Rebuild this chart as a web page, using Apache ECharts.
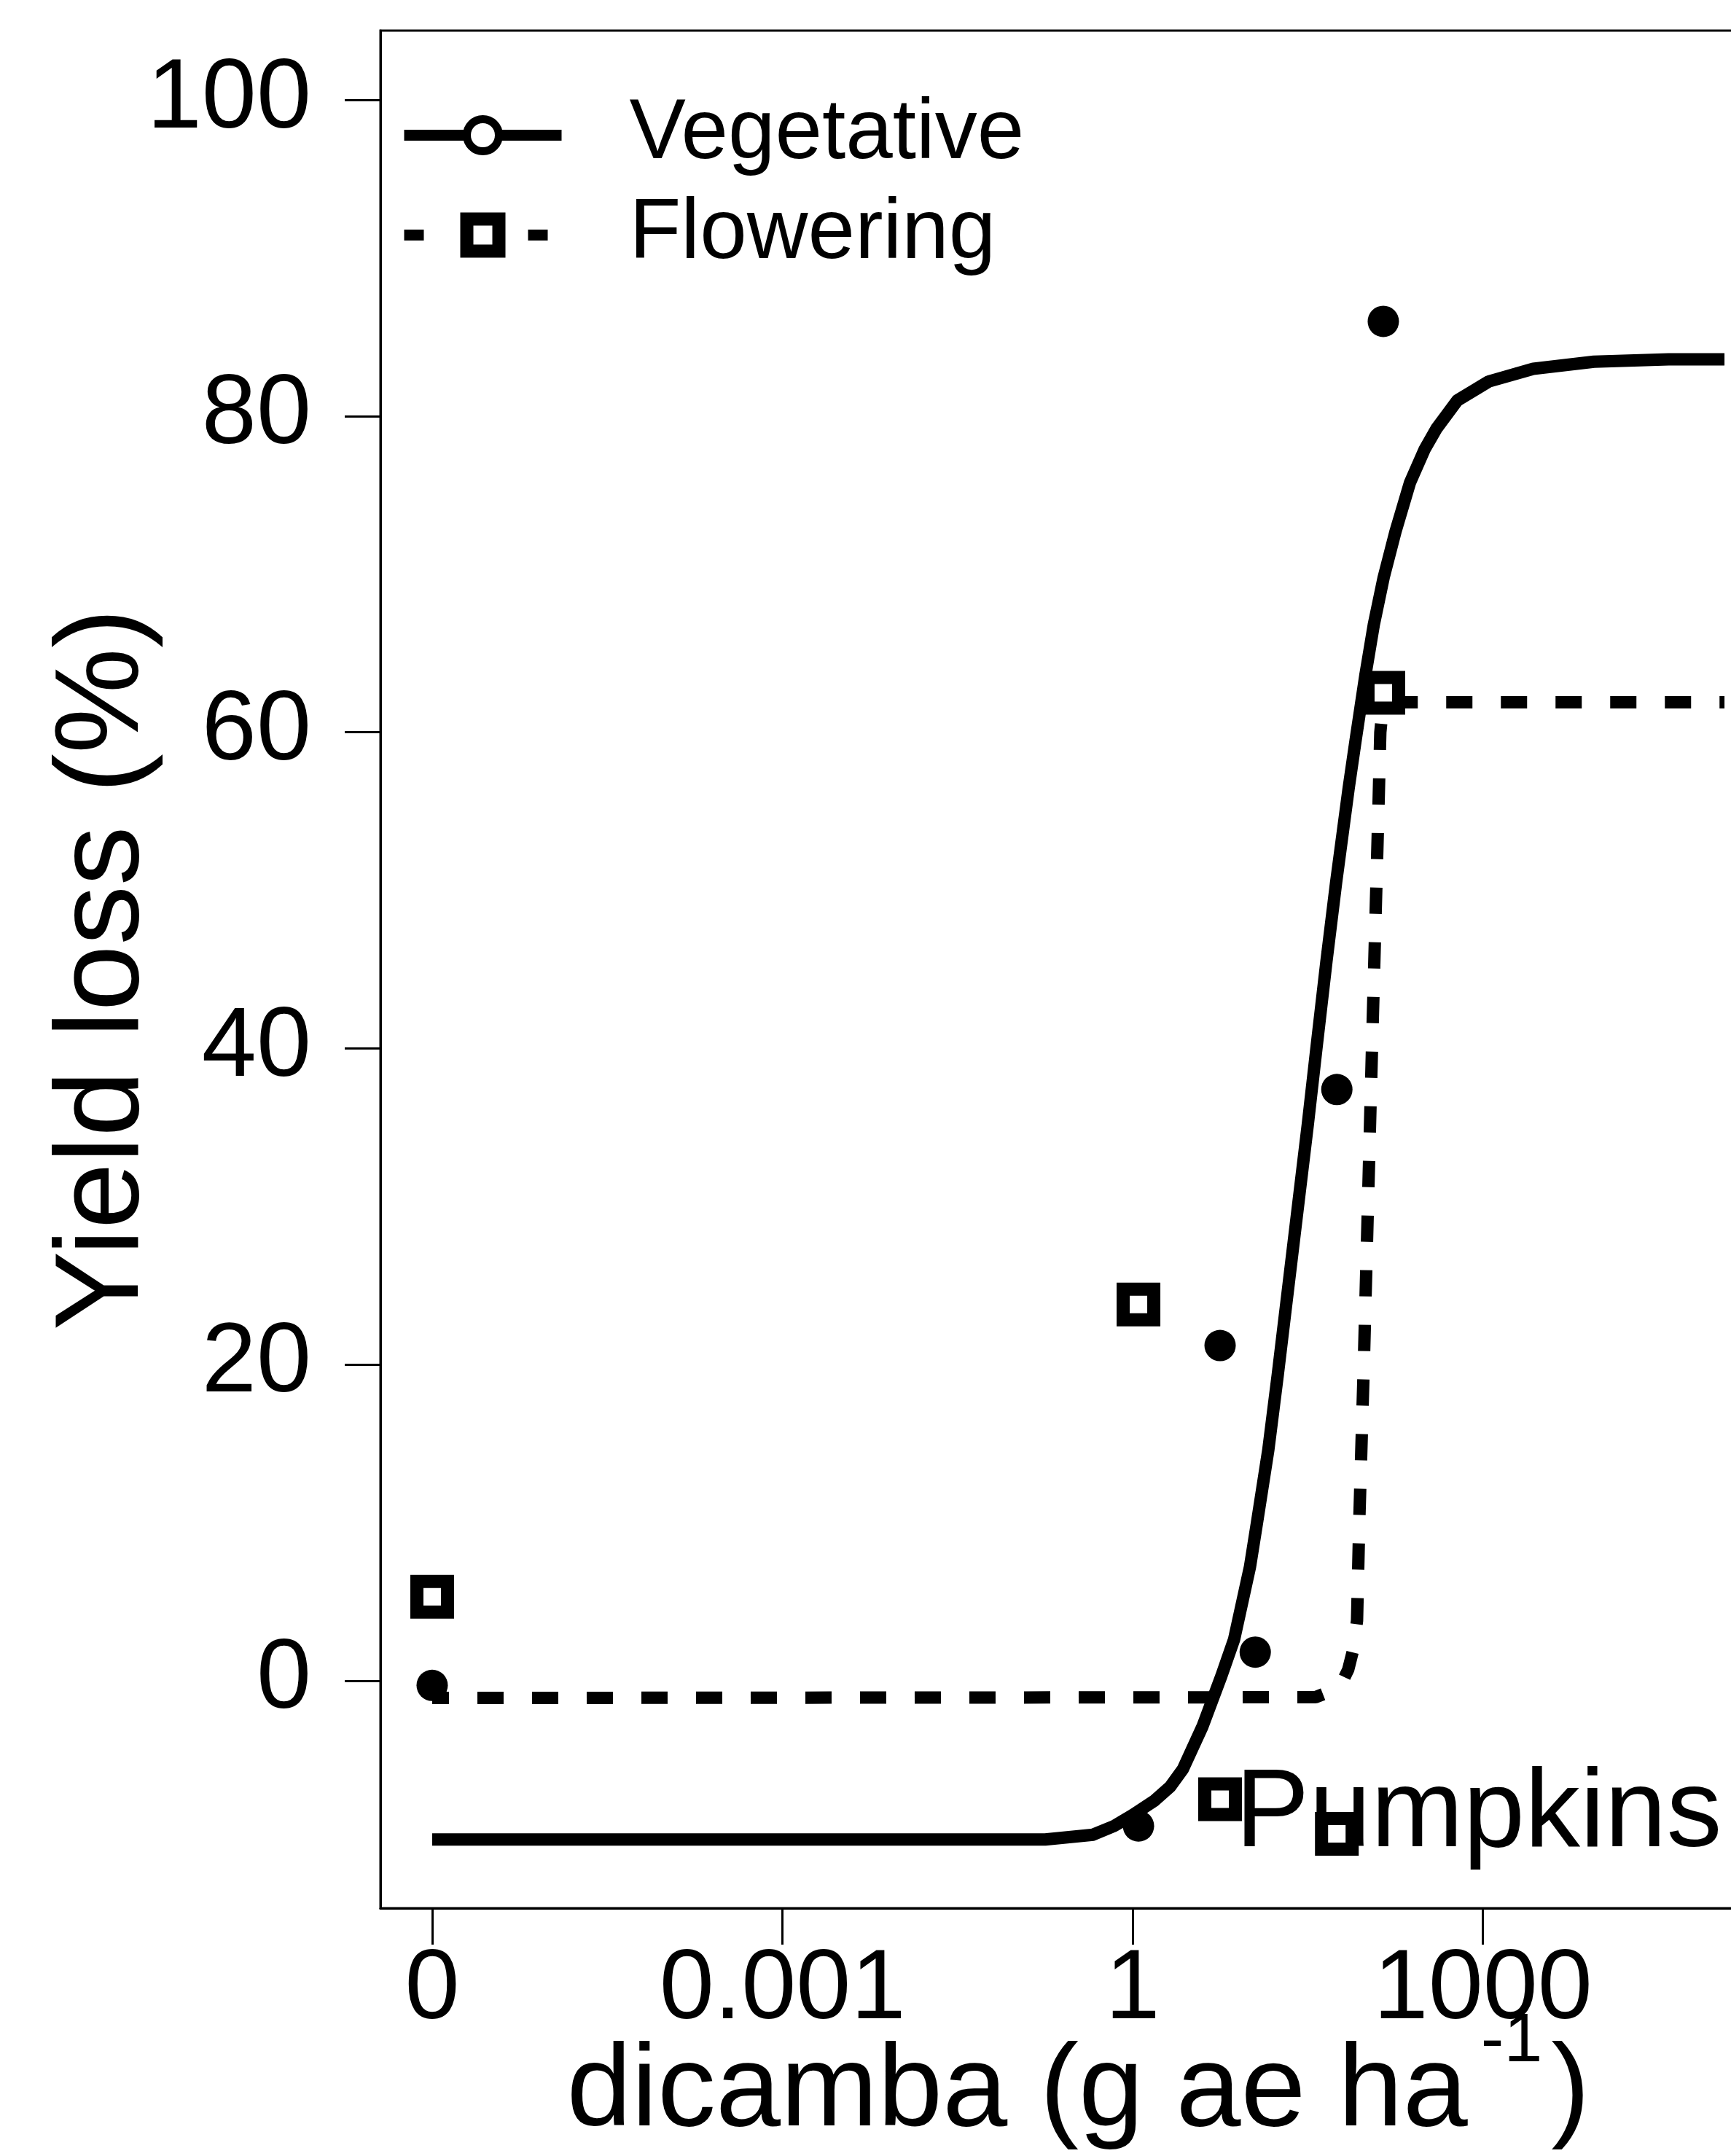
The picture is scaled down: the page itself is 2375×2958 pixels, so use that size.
<!DOCTYPE html>
<html>
<head>
<meta charset="utf-8">
<script src="https://cdn.jsdelivr.net/npm/echarts@6/dist/echarts.min.js"></script>
<style>
html,body{margin:0;padding:0;background:#fff;}
#chart{width:2375px;height:2958px;}
</style>
</head>
<body>
<div id="chart"></div>
<script>
// ---- tick labels ----
const xTickValues = [0, 0.001, 1, 1000];
const xTickLabels = ['0', '0.001', '1', '1000'];
const yTickValues = [0, 20, 40, 60, 80, 100];
const zeroDosePosition = 1e-6;   // where dose 0 is drawn on the log axis

// ---- observed points (dose in g ae/ha, yield loss %) ----
const vegDose = [0, 1.12, 5.6, 11.2, 56, 140];
const vegLoss = [-0.3, -9.2, 21.2, 1.8, 37.4, 86.0];
const flowDose = [0, 1.12, 5.6, 56, 140];
const flowLoss = [5.3, 23.8, -7.5, -9.7, 62.5];

// ---- fitted curves ----
const vegCurveDose = [0, 0.178, 0.457, 0.692, 1.0, 1.53, 2.1, 2.69, 3.96, 5.75, 7.38, 10.1, 11.6, 14.5, 17.5, 20.7, 26.3, 31.6, 37.7, 45.6, 55.2, 70.8, 81.1, 98.2, 116, 141, 178, 237, 316, 398, 603, 1120, 2690, 8910, 38900, 117000];
const vegCurveLoss = [-10.05, -10.05, -9.75, -9.2, -8.5, -7.6, -6.7, -5.6, -2.9, 0.3, 2.6, 7.2, 10.0, 14.6, 19.4, 23.9, 30.3, 35.2, 40.2, 45.5, 50.5, 56.5, 59.5, 63.6, 66.8, 69.8, 72.7, 75.8, 77.9, 79.2, 81.0, 82.2, 83.0, 83.45, 83.6, 83.6];
const flowCurveDose = [0, 36.8, 52.5, 63.1, 70.1, 77.6, 83.4, 87.1, 95.3, 112, 127, 132, 138, 145, 117000];
const flowCurveLoss = [-1.1, -1.05, -0.6, 0.0, 0.7, 2.0, 3.8, 10, 20, 40, 55, 60, 61.5, 61.9, 61.9];

const pos = d => Math.log10(d === 0 ? zeroDosePosition : d);
const pairs = (xs, ys) => xs.map((d, i) => [pos(d), ys[i]]);

const FONT = "'Liberation Sans', Arial, sans-serif";

const chart = echarts.init(document.getElementById('chart'), null, {renderer: 'canvas'});
chart.setOption({
  animation: false,
  backgroundColor: '#fff',
  grid: {
    left: 522, top: 42, width: 1915, height: 2576,
    show: true, borderColor: '#000', borderWidth: 3, backgroundColor: 'transparent',
    containLabel: false, outerBoundsMode: 'none'
  },
  xAxis: {
    type: 'value', min: -6.443, max: 5.511,
    name: 'dicamba (g ae ha{sup|-1})',
    nameLocation: 'middle', nameGap: 136, nameMoveOverlap: false,
    nameTextStyle: {
      fontFamily: FONT, fontSize: 160, color: '#000',
      rich: { sup: { fontFamily: FONT, fontSize: 95, color: '#000', padding: [0, 12, 140, 18] } }
    },
    axisLine: { show: true, onZero: false, lineStyle: { color: '#000', width: 3 } },
    axisTick: { show: true, inside: false, length: 50, customValues: xTickValues.map(pos), lineStyle: { color: '#000', width: 3 } },
    axisLabel: {
      customValues: xTickValues.map(pos), margin: 46,
      fontFamily: FONT, fontSize: 135, color: '#000',
      formatter: v => {
        const i = xTickValues.findIndex(t => Math.abs(pos(t) - v) < 1e-9);
        return i >= 0 ? xTickLabels[i] : '';
      }
    },
    splitLine: { show: false }
  },
  yAxis: {
    type: 'value', min: -14.4, max: 104.4,
    name: 'Yield loss (%)',
    nameLocation: 'middle', nameGap: 296, nameMoveOverlap: false,
    nameTextStyle: { fontFamily: FONT, fontSize: 163, color: '#000' },
    axisLine: { show: true, onZero: false, lineStyle: { color: '#000', width: 3 } },
    axisTick: { show: true, inside: false, length: 49, customValues: yTickValues, lineStyle: { color: '#000', width: 3 } },
    axisLabel: {
      customValues: yTickValues, margin: 95,
      fontFamily: FONT, fontSize: 135, color: '#000', padding: [10, 0, 0, 0],
      formatter: v => String(v)
    },
    splitLine: { show: false }
  },
  legend: {
    left: 547, top: 117, orient: 'vertical', padding: 0, itemGap: 0,
    itemWidth: 216, itemHeight: 55, selectedMode: false,
    textStyle: { fontFamily: FONT, fontSize: 116, color: '#000', lineHeight: 137, padding: [0, 0, 0, 88] },
    lineStyle: { width: 15 },
    data: [
      { name: 'Vegetative', itemStyle: { color: '#fff', borderColor: '#000', borderWidth: 11 } },
      { name: 'Flowering', itemStyle: { color: '#fff', borderColor: '#000', borderWidth: 18 },
        lineStyle: { type: [27, 58], dashOffset: 0, width: 15 } }
    ]
  },
  graphic: [{
    type: 'text', x: 1695, y: 2491, z: 1, silent: true,
    style: { text: 'Pumpkins', fontFamily: FONT, fontSize: 152, fill: '#000', align: 'left', verticalAlign: 'middle' }
  }],
  series: [
    {
      name: 'Vegetative', type: 'line', data: pairs(vegCurveDose, vegCurveLoss),
      symbol: 'circle', showSymbol: false, smooth: false, z: 2, silent: true,
      lineStyle: { color: '#000', width: 17, type: 'solid', opacity: 1, join: 'round' },
      itemStyle: { color: '#000', opacity: 1 }
    },
    {
      name: 'Flowering', type: 'line', data: pairs(flowCurveDose, flowCurveLoss),
      symbol: 'rect', showSymbol: false, smooth: false, z: 2, silent: true,
      lineStyle: { color: '#000', width: 17, type: [36, 39], dashOffset: 13, opacity: 1 },
      itemStyle: { color: '#000', opacity: 1 }
    },
    {
      name: 'Vegetative observed', type: 'scatter', data: pairs(vegDose, vegLoss),
      symbol: 'circle', symbolSize: 43, z: 3, silent: true,
      itemStyle: { color: '#000', opacity: 1 }
    },
    {
      name: 'Flowering observed', type: 'scatter', data: pairs(flowDose, flowLoss),
      symbol: 'rect', symbolSize: 42, z: 3, silent: true,
      itemStyle: { color: '#fff', borderColor: '#000', borderWidth: 18, opacity: 1 }
    }
  ]
});
</script>
</body>
</html>
